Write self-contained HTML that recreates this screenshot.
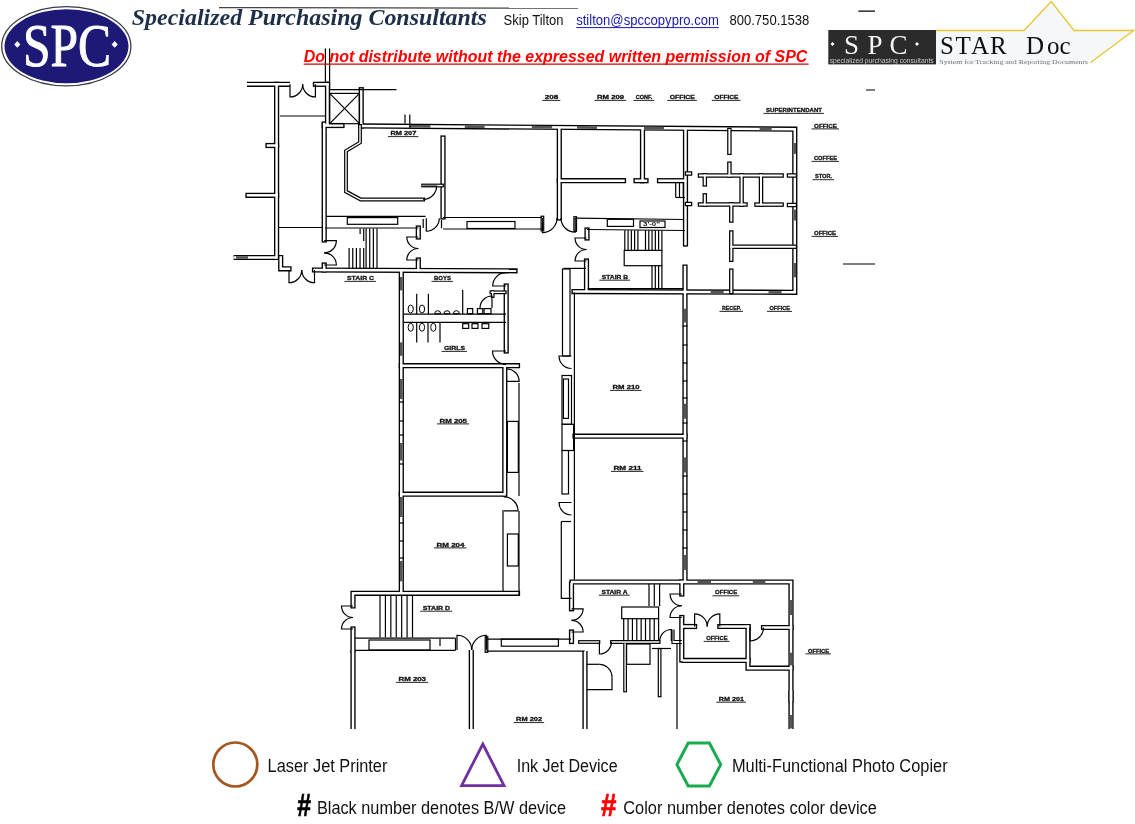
<!DOCTYPE html>
<html><head><meta charset="utf-8">
<style>
html,body{margin:0;padding:0;background:#fff;width:1135px;height:824px;overflow:hidden}
svg{position:absolute;left:0;top:0;will-change:transform}
.lb{font-family:"Liberation Sans",sans-serif;font-weight:bold;font-size:6.1px;fill:#111;stroke:#111;stroke-width:0.3px}
</style></head><body>
<svg width="1135" height="824" viewBox="0 0 1135 824">
<defs>
<g id="W" fill="none" stroke-linejoin="miter" stroke-linecap="square">
<path d="M361.2 125.9L794.8 129.2L794.8 292.3L574 291.6"/>
<path d="M361.2 89.7L361.2 126"/>
<path d="M443 138L443 217"/>
<path d="M559.3 129L559.3 218"/>
<path d="M559.3 180.7L623.5 180.7"/>
<path d="M636 180.7L646 180.7"/>
<path d="M659.5 180.7L685 180.7"/>
<path d="M642.5 129L642.5 180.7"/>
<path d="M685.5 129L685.5 244"/>
<path d="M685 267L685 581"/>
<path d="M587 230L587 238"/>
<path d="M586.5 261L586.5 291"/>
<path d="M315.4 84.3L327.5 84.3"/>
<path d="M276.6 84.3L276.6 257.5"/>
<path d="M327.5 84.3L327.5 124"/>
<path d="M324.2 124L324.2 240"/>
<path d="M324.2 265L324.2 270"/>
<path d="M248 195.3L276.6 195.3"/>
<path d="M268 145.5L276.6 145.5"/>
<path d="M280.7 257.5L280.7 268.8L289 268.8"/>
<path d="M314.5 270L515 270.8"/>
<path d="M418.3 228L418.3 237"/>
<path d="M418.3 260L418.3 270"/>
<path d="M324.2 125.5L342 125.5"/>
<path d="M401.3 271L401.3 592.5"/>
<path d="M506.2 286L506.2 351"/>
<path d="M401.3 365.7L517.5 365.7"/>
<path d="M401.3 494.2L503.7 494.2"/>
<path d="M504.8 366L504.8 494.2"/>
<path d="M517.5 593.3L353 593.3L353 606"/>
<path d="M353 629L353 650"/>
<path d="M575 436.2L685 436.2"/>
<path d="M572 582L791 582L791 700"/>
<path d="M571.5 584L571.5 608.8"/>
<path d="M571.5 632L571.5 641.5"/>
<path d="M681.8 582L681.8 594"/>
<path d="M681.8 617.5L681.8 660"/>
<path d="M684 626.5L694.6 626.5"/>
<path d="M719.8 626.5L748 626.5"/>
<path d="M748 626.5L748 668.2L791 668.2"/>
<path d="M763.5 627.5L791 627.5"/>
<path d="M684 660.4L748 660.4"/>
</g>
<g id="WBg" fill="none" stroke-linejoin="miter" stroke-linecap="butt">
<path d="M247 84.3L290 84.3"/>
<path d="M233.6 257.5L276.6 257.5"/>
<path d="M353 650L353 729"/>
<path d="M471.3 650L471.3 729"/>
<path d="M585 651L585 729"/>
<path d="M791 690L791 729"/>
</g>
</defs>
<use href="#W" stroke="#000" stroke-width="5.2"/>
<use href="#WBg" stroke="#000" stroke-width="5.2"/>
<use href="#W" stroke="#fff" stroke-width="2.5"/>
<use href="#WBg" stroke="#fff" stroke-width="2.5"/>
<g fill="none" stroke-linejoin="miter" stroke-linecap="square"><g stroke="#000" stroke-width="3.8"><path d="M580 642L598.4 642"/><path d="M612 642L658.6 642"/><path d="M542.4 217.5L542.4 229.5"/><path d="M575.2 218L575.2 230"/><path d="M360 126L360 142.5L346 151L346 191.5L360.7 199.5L423.2 199.5"/><path d="M423.2 185.5L442 185.5"/><path d="M486.5 638L486.5 651"/><path d="M625.1 644L625.1 690.5"/><path d="M659.6 649.8L659.6 695.4"/><path d="M491.4 292.3L504.8 292.3"/><path d="M492.7 292.3L492.7 296"/></g><g stroke="#fff" stroke-width="1.4"><path d="M580 642L598.4 642"/><path d="M612 642L658.6 642"/><path d="M542.4 217.5L542.4 229.5"/><path d="M575.2 218L575.2 230"/><path d="M360 126L360 142.5L346 151L346 191.5L360.7 199.5L423.2 199.5"/><path d="M423.2 185.5L442 185.5"/><path d="M486.5 638L486.5 651"/><path d="M625.1 644L625.1 690.5"/><path d="M659.6 649.8L659.6 695.4"/><path d="M491.4 292.3L504.8 292.3"/><path d="M492.7 292.3L492.7 296"/></g></g>
<g fill="none" stroke-linejoin="miter" stroke-linecap="square"><g stroke="#000" stroke-width="4.5"><path d="M687 173.5L690 173.5"/><path d="M687 204L690 204"/><path d="M729.4 130L729.4 152.8"/><path d="M729.4 163.7L729.4 175.5"/><path d="M700 175.4L781.6 175.4"/><path d="M704.8 175.4L704.8 184.4"/><path d="M741.6 175.4L741.6 204.6"/><path d="M761 175.4L761 204.6"/><path d="M700 204.6L745.5 204.6"/><path d="M756.5 204.6L781.6 204.6"/><path d="M704.8 195.4L704.8 204.6"/><path d="M731.3 204.6L731.3 220.5"/><path d="M731.3 232.5L731.3 259.8"/><path d="M731.3 270.7L731.3 292"/><path d="M731.3 246.7L794.8 246.7"/><path d="M789 175.5L794.8 175.5"/><path d="M789 205L794.8 205"/></g><g stroke="#fff" stroke-width="2"><path d="M687 173.5L690 173.5"/><path d="M687 204L690 204"/><path d="M729.4 130L729.4 152.8"/><path d="M729.4 163.7L729.4 175.5"/><path d="M700 175.4L781.6 175.4"/><path d="M704.8 175.4L704.8 184.4"/><path d="M741.6 175.4L741.6 204.6"/><path d="M761 175.4L761 204.6"/><path d="M700 204.6L745.5 204.6"/><path d="M756.5 204.6L781.6 204.6"/><path d="M704.8 195.4L704.8 204.6"/><path d="M731.3 204.6L731.3 220.5"/><path d="M731.3 232.5L731.3 259.8"/><path d="M731.3 270.7L731.3 292"/><path d="M731.3 246.7L794.8 246.7"/><path d="M789 175.5L794.8 175.5"/><path d="M789 205L794.8 205"/></g></g>
<g fill="none" stroke="#555" stroke-width="2.6" stroke-linecap="butt"><path d="M697.5 582.2L711 582.2"/><path d="M752.8 582.3L765.4 582.3"/><path d="M791 600L791 615"/><path d="M791 652.7L791 665.3"/><path d="M791 715L791 728.4"/><path d="M409.9 126.2L430.3 126.4"/><path d="M464.8 126.6L484.6 126.8"/><path d="M531.8 127.1L552.2 127.3"/><path d="M577 127.4L597 127.6"/><path d="M644 128L664 128.1"/><path d="M759.7 128.9L771.7 129"/><path d="M794.8 143L794.8 153.9"/><path d="M794.8 209.6L794.8 220.5"/><path d="M794.8 263L794.8 277.3"/><path d="M710.6 292.2L723.7 292.3"/><path d="M768.5 292.4L781.6 292.4"/><path d="M236 257.5L248 257.5"/><path d="M401.3 277L401.3 290.4"/><path d="M401.3 342.4L401.3 355.8"/><path d="M401.3 379L401.3 399"/><path d="M401.3 443L401.3 460.5"/><path d="M401.3 497L401.3 517"/><path d="M401.3 561L401.3 581.4"/><path d="M685 308.7L685 322.5"/><path d="M685 403.7L685 418.7"/><path d="M685 457.5L685 472.5"/><path d="M685 555L685 570"/></g>
<g fill="none" stroke="#000" stroke-width="1.2">
<path d="M325.4 48.5L325.4 82.3"/>
<path d="M329.6 48.5L329.6 89.7"/>
<path d="M503 510L503 592"/>
<path d="M519 383L519 496"/>
<path d="M519 511L519 596"/>
<path d="M574.4 292.4L574.4 579.5"/>
<path d="M677 644L677 729"/>
<path d="M672 629.4L672 643.5L681.8 643.5"/>
<path d="M674 629.4L674 640.5L681.8 640.5"/>
<path d="M329.7 89.7L396.5 89.7"/>
<path d="M329.7 93.4L359.5 123.7"/>
<path d="M359.5 93.4L329.7 123.7"/>
<path d="M280 116L325.5 116"/>
<path d="M278.8 227.5L323 227.5"/>
<path d="M326 216.4L425.6 216.4"/>
<path d="M325 228L418.3 228"/>
<path d="M443 217.5L542 217.5"/>
<path d="M443 229L542 229"/>
<path d="M575 218.2L684 219.5"/>
<path d="M587 229.5L685 230.5"/>
<path d="M405 114.6L405 123.7"/>
<path d="M409.8 114.6L409.8 128"/>
<path d="M349.1 248L349.1 268.6"/>
<path d="M352.75 248L352.75 268.6"/>
<path d="M356.4 248L356.4 268.6"/>
<path d="M360.05 248L360.05 268.6"/>
<path d="M363.7 248L363.7 268.6"/>
<path d="M366.1 228.6L366.1 268.6"/>
<path d="M369.733 228.6L369.733 268.6"/>
<path d="M373.367 228.6L373.367 268.6"/>
<path d="M377 228.6L377 268.6"/>
<path d="M360.1 228.6L360.1 234"/>
<path d="M363.7 228.6L363.7 241"/>
<path d="M380 595.5L380 637.5"/>
<path d="M385.417 595.5L385.417 637.5"/>
<path d="M390.833 595.5L390.833 637.5"/>
<path d="M396.25 595.5L396.25 637.5"/>
<path d="M401.667 595.5L401.667 637.5"/>
<path d="M407.083 595.5L407.083 637.5"/>
<path d="M412.5 595.5L412.5 637.5"/>
<path d="M649 583.7L649 606"/>
<path d="M654.3 583.7L654.3 606"/>
<path d="M659.6 583.7L659.6 606"/>
<path d="M623.7 618.7L623.7 640"/>
<path d="M628.062 618.7L628.062 640"/>
<path d="M632.425 618.7L632.425 640"/>
<path d="M636.788 618.7L636.788 640"/>
<path d="M641.15 618.7L641.15 640"/>
<path d="M645.513 618.7L645.513 640"/>
<path d="M649.875 618.7L649.875 640"/>
<path d="M654.238 618.7L654.238 640"/>
<path d="M658.6 618.7L658.6 640"/>
<path d="M355 638.2L455.5 638.2"/>
<path d="M355 650.3L455.5 650.3"/>
<path d="M440 639L440 646"/>
<path d="M455.5 638.2L455.5 650.3"/>
<path d="M486.5 639.1L571 639.1"/>
<path d="M486.5 651.1L584.5 651.1"/>
<path d="M586.8 664.3L599.4 664.3"/>
<path d="M612 677.3L612 689.6L586.8 689.6"/>
<path d="M652 648.5L671 648.5"/>
<path d="M404 314.2L506 314.2"/>
<path d="M404 322.3L506 322.3"/>
<path d="M416.7 293.7L416.7 314"/>
<path d="M428.4 293.7L428.4 314"/>
<path d="M462.7 289.7L462.7 314"/>
<path d="M416.7 323L416.7 342.4"/>
<path d="M428 323L428 342.4"/>
<path d="M440 323L440 342.4"/>
<path d="M561.3 521.5L561.3 598.3L571.5 598.3"/>
<path d="M561.3 521.5L571 521.5"/>
<path d="M563.5 268.4L586 268.4"/>
<path d="M624.8 230.2L624.8 250.4"/>
<path d="M628.075 230.2L628.075 250.4"/>
<path d="M631.35 230.2L631.35 250.4"/>
<path d="M634.625 230.2L634.625 250.4"/>
<path d="M637.9 230.2L637.9 250.4"/>
<path d="M645.5 230.2L645.5 250.4"/>
<path d="M648.78 230.2L648.78 250.4"/>
<path d="M652.06 230.2L652.06 250.4"/>
<path d="M655.34 230.2L655.34 250.4"/>
<path d="M658.62 230.2L658.62 250.4"/>
<path d="M661.9 230.2L661.9 250.4"/>
<path d="M652 265.7L652 288.6"/>
<path d="M655.3 265.7L655.3 288.6"/>
<path d="M658.6 265.7L658.6 288.6"/>
<path d="M661.9 265.7L661.9 288.6"/>
<path d="M587.6 288.6L683 288.6"/>
<path d="M675.7 182.6L675.7 197.5"/>
<path d="M679.5 182.6L679.5 197.5"/>
<path d="M683.3 182.6L683.3 197.5"/>
<path d="M675.7 197.5L685 197.5"/>
<path d="M399 402L403.6 402"/>
<path d="M399 421L403.6 421"/>
<path d="M399 435L403.6 435"/>
<path d="M399 464L403.6 464"/>
<path d="M399 523L403.6 523"/>
<path d="M399 541L403.6 541"/>
<path d="M399 558L403.6 558"/>
<path d="M682.6 326L687.4 326"/>
<path d="M682.6 345L687.4 345"/>
<path d="M682.6 363L687.4 363"/>
<path d="M682.6 381L687.4 381"/>
<path d="M682.6 398L687.4 398"/>
<path d="M682.6 423L687.4 423"/>
<path d="M682.6 441L687.4 441"/>
<path d="M682.6 476L687.4 476"/>
<path d="M682.6 494L687.4 494"/>
<path d="M682.6 512L687.4 512"/>
<path d="M682.6 530L687.4 530"/>
<path d="M682.6 548L687.4 548"/>
<path d="M423.2 219L423.2 228"/>
<path d="M441.5 220L441.5 228.2"/>
<rect x="329.7" y="93.4" width="29.8" height="30.3"/>
<rect x="347.3" y="217.6" width="50.4" height="6.7"/>
<rect x="467" y="221.5" width="48" height="7"/>
<rect x="640" y="221" width="25" height="6.5"/>
<rect x="621.7" y="607" width="36.9" height="11.7"/>
<rect x="369" y="640" width="61" height="10"/>
<rect x="501.3" y="639.1" width="57.1" height="7.1"/>
<rect x="626.6" y="644" width="23.4" height="20.3"/>
<rect x="467.4" y="308.6" width="5.3" height="5.1"/>
<rect x="477.4" y="308.6" width="5.4" height="5.1"/>
<rect x="484" y="308.6" width="7" height="5.1"/>
<rect x="462.7" y="323.7" width="6" height="4.7"/>
<rect x="472" y="323.7" width="6" height="4.7"/>
<rect x="482" y="323.7" width="6.8" height="4.7"/>
<rect x="507.4" y="421.4" width="10.9" height="51"/>
<rect x="507.4" y="534" width="10.9" height="32"/>
<rect x="562.5" y="269" width="7.5" height="87"/>
<rect x="562" y="375.5" width="9.5" height="48.8"/>
<rect x="563.4" y="379" width="5.1" height="39.4"/>
<rect x="562" y="424.3" width="11.6" height="26.2"/>
<rect x="562" y="450.5" width="6.5" height="43.5"/>
<rect x="607.3" y="219.3" width="26.2" height="7.1"/>
<rect x="624.2" y="250.4" width="37.7" height="15.3"/>
<path d="M423.2 186L436.6 186A13.4 13.4 0 0 1 423.2 199.4"/>
<path d="M290 84.3L290 97A12.7 12.7 0 0 0 302.7 84.3"/>
<path d="M315.4 84.3L315.4 97A12.7 12.7 0 0 1 302.7 84.3"/>
<path d="M324.2 240.7L336.35 240.7A12.15 12.15 0 0 1 324.2 252.85"/>
<path d="M324.2 265L336.35 265A12.15 12.15 0 0 0 324.2 252.85"/>
<path d="M418.3 237L406.8 237A11.5 11.5 0 0 0 418.3 248.5"/>
<path d="M418.3 260L406.8 260A11.5 11.5 0 0 1 418.3 248.5"/>
<path d="M289 270L289 282.75A12.75 12.75 0 0 0 301.75 270"/>
<path d="M314.5 270L314.5 282.75A12.75 12.75 0 0 1 301.75 270"/>
<path d="M542.4 218L542.4 232.6A14.6 14.6 0 0 0 557 218"/>
<path d="M575.2 218L575.2 232.2A14.2 14.2 0 0 1 561 218"/>
<path d="M586.5 238L575 238A11.5 11.5 0 0 0 586.5 249.5"/>
<path d="M586.5 261L575 261A11.5 11.5 0 0 1 586.5 249.5"/>
<path d="M353 606L341.5 606A11.5 11.5 0 0 0 353 617.5"/>
<path d="M353 629L341.5 629A11.5 11.5 0 0 1 353 617.5"/>
<path d="M457 650L457 635.25A14.75 14.75 0 0 1 471.75 650"/>
<path d="M486.5 650L486.5 635.25A14.75 14.75 0 0 0 471.75 650"/>
<path d="M571.5 608.8L583.1 608.8A11.6 11.6 0 0 1 571.5 620.4"/>
<path d="M571.5 632L583.1 632A11.6 11.6 0 0 0 571.5 620.4"/>
<path d="M681.8 594L670.05 594A11.75 11.75 0 0 0 681.8 605.75"/>
<path d="M681.8 617.5L670.05 617.5A11.75 11.75 0 0 1 681.8 605.75"/>
<path d="M694.6 626.5L694.6 613.9A12.6 12.6 0 0 1 707.2 626.5"/>
<path d="M719.8 626.5L719.8 613.9A12.6 12.6 0 0 0 707.2 626.5"/>
<path d="M750 627.5L750 641A13.5 13.5 0 0 0 763.5 627.5"/>
<path d="M599.4 642L599.4 654A12 12 0 0 0 611.4 642"/>
<path d="M671.3 641L671.3 629.5A11.5 11.5 0 0 0 659.8 641"/>
<path d="M506 286L492.7 286A13.3 13.3 0 0 1 506 272.7"/>
<path d="M492 308L492 296A12 12 0 0 0 480 308"/>
<path d="M506 351L492.5 351A13.5 13.5 0 0 0 506 364.5"/>
<path d="M506.6 381.3L519.1 381.3A12.5 12.5 0 0 0 506.6 368.8"/>
<path d="M504 510.9L518 510.9A14 14 0 0 0 504 496.9"/>
<path d="M571.5 356L559 356A12.5 12.5 0 0 0 571.5 368.5"/>
<path d="M571.5 502.5L559 502.5A12.5 12.5 0 0 0 571.5 515"/>
<path d="M599.4 664.3A12.6 13 0 0 1 612 677.3"/>
<path d="M426.3 218.2L426.3 231.2A13 13 0 0 0 439.3 218.2"/>
</g>
<ellipse cx="410.7" cy="309" rx="2.6" ry="4" fill="none" stroke="#000" stroke-width="1"/><ellipse cx="422" cy="309" rx="2.6" ry="4" fill="none" stroke="#000" stroke-width="1"/><ellipse cx="410.7" cy="327.3" rx="2.6" ry="4" fill="none" stroke="#000" stroke-width="1"/><ellipse cx="422" cy="327.3" rx="2.6" ry="4" fill="none" stroke="#000" stroke-width="1"/><ellipse cx="433.3" cy="327.3" rx="2.6" ry="4" fill="none" stroke="#000" stroke-width="1"/><path d="M434.7 313.7A3 3 0 0 1 440.7 313.7Z" fill="none" stroke="#000" stroke-width="1"/><path d="M444 313.7A3 3 0 0 1 450 313.7Z" fill="none" stroke="#000" stroke-width="1"/><path d="M453.4 313.7A3 3 0 0 1 459.4 313.7Z" fill="none" stroke="#000" stroke-width="1"/><text x="643" y="226.3" font-family="Liberation Sans" font-weight="bold" font-size="5.5" fill="#111" textLength="17" lengthAdjust="spacingAndGlyphs">3&#39;-0&quot;</text>
<g class="lb">
<text x="544.7" y="99" textLength="13.6" lengthAdjust="spacingAndGlyphs">208</text>
<text x="597" y="99" textLength="27.2" lengthAdjust="spacingAndGlyphs">RM 209</text>
<text x="635.8" y="99" textLength="16.5" lengthAdjust="spacingAndGlyphs">CONF.</text>
<text x="669.7" y="99" textLength="25.2" lengthAdjust="spacingAndGlyphs">OFFICE</text>
<text x="714.3" y="99" textLength="24.2" lengthAdjust="spacingAndGlyphs">OFFICE</text>
<text x="766" y="112" textLength="56" lengthAdjust="spacingAndGlyphs">SUPERINTENDANT</text>
<text x="814" y="127.5" textLength="23" lengthAdjust="spacingAndGlyphs">OFFICE</text>
<text x="814" y="160" textLength="23" lengthAdjust="spacingAndGlyphs">COFFEE</text>
<text x="815" y="178.3" textLength="17" lengthAdjust="spacingAndGlyphs">STOR.</text>
<text x="814" y="235" textLength="22" lengthAdjust="spacingAndGlyphs">OFFICE</text>
<text x="390.4" y="135.2" textLength="26" lengthAdjust="spacingAndGlyphs">RM 207</text>
<text x="347" y="280" textLength="27" lengthAdjust="spacingAndGlyphs">STAIR C</text>
<text x="434" y="280" textLength="17" lengthAdjust="spacingAndGlyphs">BOYS</text>
<text x="444" y="350" textLength="21" lengthAdjust="spacingAndGlyphs">GIRLS</text>
<text x="601.8" y="278.8" textLength="26.2" lengthAdjust="spacingAndGlyphs">STAIR B</text>
<text x="722" y="310" textLength="19" lengthAdjust="spacingAndGlyphs">RECEP.</text>
<text x="769.5" y="310" textLength="20.5" lengthAdjust="spacingAndGlyphs">OFFICE</text>
<text x="612.5" y="389" textLength="27" lengthAdjust="spacingAndGlyphs">RM 210</text>
<text x="439.5" y="422.5" textLength="27.5" lengthAdjust="spacingAndGlyphs">RM 205</text>
<text x="613.5" y="470" textLength="28" lengthAdjust="spacingAndGlyphs">RM 211</text>
<text x="436.5" y="546.5" textLength="28" lengthAdjust="spacingAndGlyphs">RM 204</text>
<text x="422.7" y="609.8" textLength="27.5" lengthAdjust="spacingAndGlyphs">STAIR D</text>
<text x="601.4" y="593.8" textLength="26.2" lengthAdjust="spacingAndGlyphs">STAIR A</text>
<text x="715" y="594.4" textLength="22.3" lengthAdjust="spacingAndGlyphs">OFFICE</text>
<text x="706.2" y="640" textLength="21.4" lengthAdjust="spacingAndGlyphs">OFFICE</text>
<text x="808" y="652.5" textLength="21" lengthAdjust="spacingAndGlyphs">OFFICE</text>
<text x="398.5" y="681" textLength="27.5" lengthAdjust="spacingAndGlyphs">RM 203</text>
<text x="516.1" y="721.2" textLength="26" lengthAdjust="spacingAndGlyphs">RM 202</text>
<text x="718.8" y="700.8" textLength="25.2" lengthAdjust="spacingAndGlyphs">RM 201</text>
</g><g stroke="#111" stroke-width="0.9">
<path d="M542.2 100.4L560.3 100.4"/>
<path d="M594.5 100.4L626.2 100.4"/>
<path d="M633.3 100.4L654.3 100.4"/>
<path d="M667.2 100.4L696.9 100.4"/>
<path d="M711.8 100.4L740.5 100.4"/>
<path d="M763.5 113.4L824 113.4"/>
<path d="M811.5 128.9L839 128.9"/>
<path d="M811.5 161.4L839 161.4"/>
<path d="M812.5 179.7L834 179.7"/>
<path d="M811.5 236.4L838 236.4"/>
<path d="M387.9 136.6L418.4 136.6"/>
<path d="M344.5 281.4L376 281.4"/>
<path d="M431.5 281.4L453 281.4"/>
<path d="M441.5 351.4L467 351.4"/>
<path d="M599.3 280.2L630 280.2"/>
<path d="M719.5 311.4L743 311.4"/>
<path d="M767 311.4L792 311.4"/>
<path d="M610 390.4L641.5 390.4"/>
<path d="M437 423.9L469 423.9"/>
<path d="M611 471.4L643.5 471.4"/>
<path d="M434 547.9L466.5 547.9"/>
<path d="M420.2 611.2L452.2 611.2"/>
<path d="M598.9 595.2L629.6 595.2"/>
<path d="M712.5 595.8L739.3 595.8"/>
<path d="M703.7 641.4L729.6 641.4"/>
<path d="M805.5 653.9L831 653.9"/>
<path d="M396 682.4L428 682.4"/>
<path d="M513.6 722.6L544.1 722.6"/>
<path d="M716.3 702.2L746 702.2"/>
</g>
<!-- HEADER -->
<ellipse cx="66.3" cy="46.2" rx="64.6" ry="39.6" fill="#fff" stroke="#3a3a4a" stroke-width="1.3"/>
<ellipse cx="66.5" cy="46.3" rx="62" ry="37" fill="#1c1a76"/>
<text x="67" y="65.4" text-anchor="middle" font-family="Liberation Serif" font-size="46" fill="#fff" transform="translate(0,-21) scale(1,1.33)" stroke="#fff" stroke-width="0.7" textLength="88" lengthAdjust="spacingAndGlyphs">SPC</text>
<path d="M17.3 41L20.4 44.4L17.3 47.8L14.2 44.4Z M114.7 41L117.8 44.4L114.7 47.8L111.6 44.4Z" fill="#fff"/>
<path d="M219 7.6L578 8.2" stroke="#444" stroke-width="1.3"/>
<text x="131.8" y="24.8" font-family="Liberation Serif" font-weight="bold" font-style="italic" font-size="24" fill="#1e3048" textLength="355" lengthAdjust="spacingAndGlyphs">Specialized Purchasing Consultants</text>
<text x="503.6" y="25" font-family="Liberation Sans" font-size="14" fill="#111" textLength="60" lengthAdjust="spacingAndGlyphs">Skip Tilton</text>
<text x="576.2" y="25" font-family="Liberation Sans" font-size="14" fill="#1a1ab0" textLength="142.7" lengthAdjust="spacingAndGlyphs">stilton@spccopypro.com</text>
<path d="M576.2 27.6L719 27.6" stroke="#1a1ab0" stroke-width="1"/>
<text x="729.4" y="25" font-family="Liberation Sans" font-size="14" fill="#111" textLength="80" lengthAdjust="spacingAndGlyphs">800.750.1538</text>
<text x="303.7" y="61.7" font-family="Liberation Sans" font-style="italic" font-weight="bold" font-size="16" fill="#f00" textLength="503.7" lengthAdjust="spacingAndGlyphs">Do not distribute without the expressed written permission of SPC</text>
<path d="M303.7 64.1L808.6 64.1" stroke="#d00" stroke-width="1.1"/>
<!-- STAR doc -->
<path d="M858.3 11.1L875 11.1M866 90L875 90M843 264L875 264" stroke="#000" stroke-width="1.2"/>
<rect x="828.3" y="30" width="107.7" height="34.4" fill="#2b2b2b"/>
<path d="M936 30.5L1024 30.5L1051.2 1.6L1074 30.5L1133.6 30.5L1090.6 62.4L1088 64.4L936 64.4Z" fill="#f6f7fa" stroke="none"/>
<path d="M936 30.5L1024 30.5L1051.2 1.6L1074 30.5L1133.6 30.5L1090.6 62.4" fill="none" stroke="#e8c631" stroke-width="1.3"/>
<text x="844 867.5 889.5" y="54.2" font-family="Liberation Serif" font-size="27" fill="#f4f4f4">SPC</text>
<path d="M832.5 42L834.5 44L832.5 46L830.5 44Z M917 42L919 44L917 46L915 44Z" fill="#fff"/>
<text x="829.7" y="62.5" font-family="Liberation Sans" font-size="6.5" fill="#c8c8c8" textLength="104" lengthAdjust="spacingAndGlyphs">specialized purchasing consultants</text>
<text x="940 955.5 971 990 1010 1026 1047 1059.5" y="54.2" font-family="Liberation Serif" font-size="25" fill="#111">STAR Doc</text>
<text x="939.3" y="64" font-family="Liberation Serif" font-size="6" fill="#777" textLength="148.5" lengthAdjust="spacingAndGlyphs">System for Tracking and Reporting Documents</text>
<!-- LEGEND -->
<circle cx="235.3" cy="764.5" r="22" fill="none" stroke="#a3561f" stroke-width="2.7"/>
<path d="M482.8 744L504 785.6L461.6 785.6Z" fill="none" stroke="#7030a0" stroke-width="2.8" stroke-linejoin="miter"/>
<path d="M688.2 743L709.4 743L720.7 764.6L709.4 786L688.2 786L676.9 764.6Z" fill="none" stroke="#1aab50" stroke-width="3"/>
<g font-family="Liberation Sans" font-size="17.5" fill="#111">
<text x="267.6" y="771.6" textLength="119.8" lengthAdjust="spacingAndGlyphs">Laser Jet Printer</text>
<text x="516.7" y="772.4" textLength="100.9" lengthAdjust="spacingAndGlyphs">Ink Jet Device</text>
<text x="731.9" y="772" textLength="215.7" lengthAdjust="spacingAndGlyphs">Multi-Functional Photo Copier</text>
<text x="316.9" y="814.3" textLength="249.1" lengthAdjust="spacingAndGlyphs">Black number denotes B/W device</text>
<text x="623.3" y="814.3" textLength="253.5" lengthAdjust="spacingAndGlyphs">Color number denotes color device</text>
</g>
<text x="297.2" y="815.6" font-family="Liberation Sans" font-weight="bold" font-size="32" fill="#000" stroke="#000" stroke-width="0.7" textLength="13.8" lengthAdjust="spacingAndGlyphs">#</text>
<text x="601" y="815.6" font-family="Liberation Sans" font-weight="bold" font-size="32" fill="#f00" stroke="#f00" stroke-width="0.7" textLength="15.4" lengthAdjust="spacingAndGlyphs">#</text>

</svg>
</body></html>
